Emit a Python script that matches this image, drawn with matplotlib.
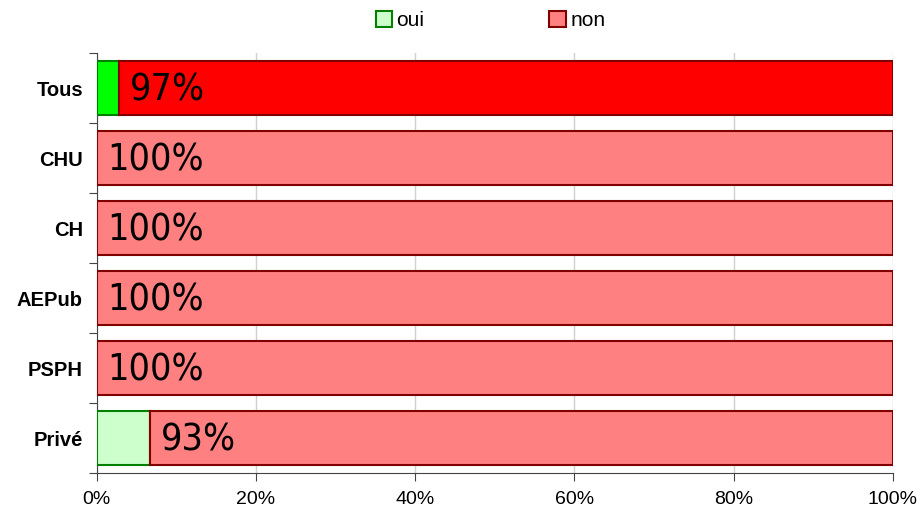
import matplotlib.pyplot as plt
from matplotlib.patches import Patch

# données
categories = ["Tous", "CHU", "CH", "AEPub", "PSPH", "Privé"]
oui = [2.8, 0.0, 0.0, 0.0, 0.0, 6.7]
non = [97.2, 100.0, 100.0, 100.0, 100.0, 93.3]
labels_non = ["97%", "100%", "100%", "100%", "100%", "93%"]
xticks = [0, 20, 40, 60, 80, 100]

# couleurs : "Tous" en couleurs vives, les autres en pastel
oui_colors = ["#00ff00"] + ["#ccffcc"] * 5
non_colors = ["#ff0000"] + ["#ff8080"] * 5

fig = plt.figure(figsize=(9.22, 5.12), dpi=100)
ax = fig.add_axes([0.105, 0.076, 0.8635, 0.8205])

y = list(range(len(categories)))
ax.barh(y, oui, height=0.77, color=oui_colors, edgecolor="#008000", linewidth=1.5, zorder=3)
ax.barh(y, non, left=oui, height=0.77, color=non_colors, edgecolor="#800000", linewidth=1.5, zorder=3)

for yi, o, lab in zip(y, oui, labels_non):
    ax.text(o + 1.3, yi + 0.03, lab, va="center", ha="left", fontsize=27,
            family="DejaVu Sans", fontstretch="condensed", zorder=4)

ax.set_xlim(0, 100)
ax.set_ylim(len(categories) - 0.5, -0.5)
ax.set_xticks(xticks)
ax.set_xticklabels([f"{v}%" for v in xticks], fontsize=14, family="Liberation Sans")

# ticks aux limites des catégories, libellés au centre
ax.set_yticks([i - 0.5 for i in range(len(categories) + 1)])
ax.set_yticklabels([])
ax.set_yticks(y, minor=True)
ax.set_yticklabels(categories, minor=True, fontsize=14.5, fontweight="bold", family="Liberation Sans")
ax.tick_params(axis="y", which="minor", length=0, pad=10)
ax.tick_params(axis="y", which="major", length=6, color="#444444")
ax.tick_params(axis="x", length=6, color="#444444", pad=7)

ax.grid(axis="x", color="#d0d0d0", linewidth=1, zorder=0)
for s in ["top", "right"]:
    ax.spines[s].set_visible(False)
for s in ["left", "bottom"]:
    ax.spines[s].set_color("#444444")

handles = [Patch(facecolor="#ccffcc", edgecolor="#008000", linewidth=1.5, label="oui"),
           Patch(facecolor="#ff8080", edgecolor="#800000", linewidth=1.5, label="non")]
fig.legend(handles=handles, loc="upper center", bbox_to_anchor=(0.532, 1.015), ncol=2,
           frameon=False, prop={"family": "Liberation Sans", "size": 15},
           handlelength=0.8, handleheight=0.8, handletextpad=0.2, columnspacing=6.0)

plt.savefig("out.png", dpi=100)
plt.close()
